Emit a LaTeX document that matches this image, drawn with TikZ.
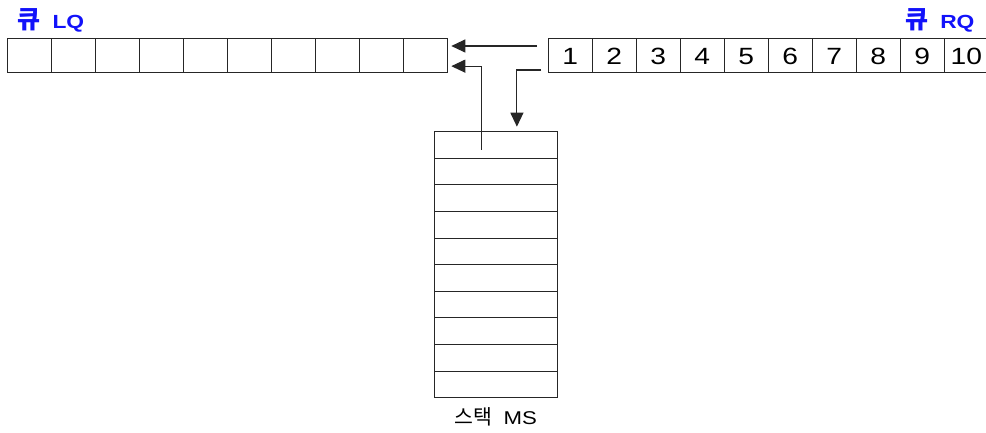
\documentclass[tikz,border=0pt]{standalone}
\usepackage{fontspec}
\usetikzlibrary{arrows.meta,calc}
\newfontfamily\latinfont[FakeStretch=1.2]{Liberation Sans}
\newfontfamily\krfont{Noto Sans CJK KR}
\definecolor{labelblue}{RGB}{18,18,250}
\begin{document}
\begin{tikzpicture}[x=1pt,y=-1pt,
  line width=1.1pt,
  qcell/.style={draw=black!85,minimum width=44pt,minimum height=34.3pt,inner sep=0pt,outer sep=0pt},
  scell/.style={draw=black!85,minimum width=122.3pt,minimum height=26.6pt,inner sep=0pt,outer sep=0pt},
  digit/.style={inner sep=0pt,anchor=base,font=\latinfont\fontsize{23.5}{23.5}\selectfont},
  qlabel/.style={inner sep=0pt,text=labelblue},
  arr/.style={draw=black!85,-{Triangle[length=14pt,width=13pt]},shorten >=4pt}]
\useasboundingbox (0,0) rectangle (986,433);

% left queue LQ: ten empty cells
\foreach \i in {1,...,10}
  \node[qcell] (lq\i) at ({29.3+44*(\i-1)},55.5) {};

% right queue RQ: cells holding 1..10
\foreach \i in {1,...,10}{
  \node[qcell] (rq\i) at ({570.3+44*(\i-1)},55.5) {};
  \node[digit] (d\i) at (rq\i.center |- 0,65) {\i};
}

% stack MS: ten rows
\foreach \i in {1,...,10}
  \node[scell] (ms\i) at (495.9,{145+26.6*(\i-1)}) {};

% queue and stack captions
\node[qlabel,anchor=base west] (lqlabel) at (17,28.3)
  {{\krfont\bfseries\fontsize{25}{25}\selectfont 큐}\hspace{12pt}{\latinfont\bfseries\fontsize{19}{19}\selectfont LQ}};
\node[qlabel,anchor=base east] (rqlabel) at (975,28.3)
  {{\krfont\bfseries\fontsize{25}{25}\selectfont 큐}\hspace{12pt}{\latinfont\bfseries\fontsize{19}{19}\selectfont RQ}};
\node[inner sep=0pt,anchor=base] (mslabel) at (496,424.5)
  {{\krfont\fontsize{20.5}{20.5}\selectfont 스택}\hspace{11pt}{\latinfont\fontsize{18.5}{18.5}\selectfont MS}};

% transfer arrows
\coordinate (rqa) at (537,46);
\coordinate (msa) at (481.5,150);
\coordinate (rqb) at (541,70);
\draw[arr] (rqa) -- (rqa -| lq10.east);
\draw[arr] (msa) |- ([yshift=6.5pt]lq10.south east);
\draw[arr,shorten >=0pt] (rqb) -| ($(ms1.north)+(21,-5)$);
\end{tikzpicture}
\end{document}
